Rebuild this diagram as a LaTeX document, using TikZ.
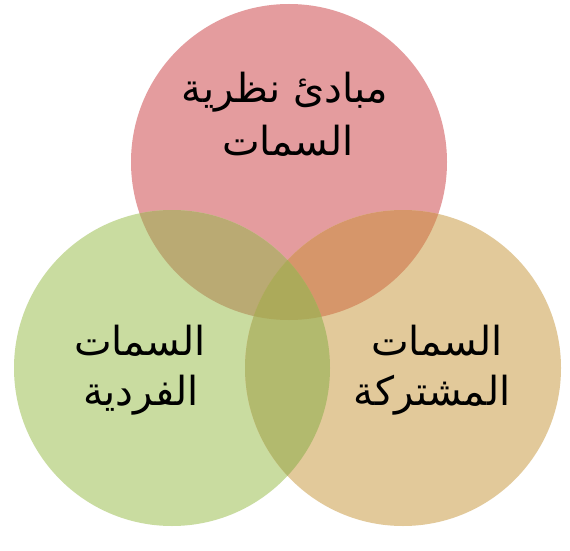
\documentclass[tikz,border=0pt]{standalone}
\usepackage{fontspec}
\newfontfamily\arabicfont[Script=Arabic]{DejaVu Sans}
\TeXXeTstate=1
\definecolor{ctop}{HTML}{E49C9E}
\definecolor{cleft}{HTML}{C9DCA0}
\definecolor{cright}{HTML}{E2C99A}
\definecolor{ctl}{HTML}{BAAA73}
\definecolor{ctr}{HTML}{D6966A}
\definecolor{clr}{HTML}{B2BA6E}
\definecolor{call}{HTML}{ACAA5A}
\tikzset{
  lbl/.style={anchor=base, inner sep=0pt, font=\arabicfont\fontsize{40}{48}\selectfont, text=black}
}
\begin{document}
\begin{tikzpicture}[x=1pt,y=-1pt]
\useasboundingbox (0,0) rectangle (570,551);
\fill[white] (0,0) rectangle (570,551);
\coordinate (T) at (289,162);
\coordinate (L) at (172,368);
\coordinate (R) at (403,368);
\def\rr{158pt}
\fill[ctop] (T) circle[radius=\rr];
\fill[cleft] (L) circle[radius=\rr];
\fill[cright] (R) circle[radius=\rr];
\begin{scope}
  \clip (T) circle[radius=\rr];
  \fill[ctl] (L) circle[radius=\rr];
  \fill[ctr] (R) circle[radius=\rr];
\end{scope}
\begin{scope}
  \clip (L) circle[radius=\rr];
  \fill[clr] (R) circle[radius=\rr];
  \clip (R) circle[radius=\rr];
  \fill[call] (T) circle[radius=\rr];
\end{scope}
\node[lbl] (t1) at (285,102) {\beginR مبادئ نظرية\endR};
\node[lbl] (t2) at (288,155) {\beginR السمات\endR};
\node[lbl] (l1) at (140,355) {\beginR السمات\endR};
\node[lbl] (l2) at (141,405) {\beginR الفردية\endR};
\node[lbl] (r1) at (437,355) {\beginR السمات\endR};
\node[lbl] (r2) at (432,405) {\beginR المشتركة\endR};
\end{tikzpicture}
\end{document}
